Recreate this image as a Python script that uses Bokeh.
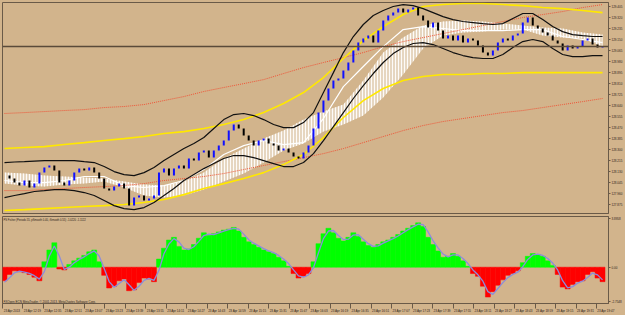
from bokeh.plotting import figure
from bokeh.layouts import column
from bokeh.models import (Range1d, FixedTicker, NumeralTickFormatter,
                          CustomJSTickFormatter, Span, Label)
from bokeh.embed import file_html
from bokeh.resources import INLINE

BG = "#D2B48C"
FG = "#6A5A48"
TXT = "#2B2118"
FONT = "Liberation Sans"

# ---------------- data ----------------
close = [128.098, 128.075, 128.044, 128.021, 128.060, 128.006, 128.036, 128.121, 128.160, 128.176,
         128.137, 128.044, 128.021, 128.060, 128.121, 128.152, 128.137, 128.160, 128.121, 128.075,
         127.998, 127.982, 128.013, 128.036, 127.998, 127.866, 127.928, 127.944, 127.905, 127.920,
         127.944, 128.121, 128.152, 128.098, 128.152, 128.176, 128.152, 128.230, 128.214, 128.276,
         128.292, 128.237, 128.292, 128.330, 128.369, 128.446, 128.493, 128.462, 128.407, 128.369,
         128.330, 128.369, 128.384, 128.346, 128.330, 128.292, 128.307, 128.276, 128.245, 128.230,
         128.276, 128.330, 128.462, 128.585, 128.678, 128.771, 128.833, 128.848, 128.910, 128.972,
         129.065, 129.126, 129.157, 129.180, 129.126, 129.219, 129.296, 129.335, 129.358, 129.389,
         129.358, 129.381, 129.397, 129.335, 129.296, 129.242, 129.281, 129.219, 129.157, 129.180,
         129.142, 129.180, 129.126, 129.157, 129.142, 129.103, 129.049, 129.026, 129.065, 129.126,
         129.157, 129.142, 129.180, 129.196, 129.281, 129.320, 129.258, 129.235, 129.204, 129.180,
         129.142, 129.119, 129.065, 129.103, 129.080, 129.095, 129.142, 129.157, 129.111, 129.088,
         129.095]

# long-period curves, one value every 4 bars
red_upper = [128.578, 128.585, 128.593, 128.601, 128.608, 128.624, 128.632, 128.647, 128.678, 128.709,
             128.748, 128.779, 128.809, 128.840, 128.887, 128.933, 128.972, 129.010, 129.049, 129.095,
             129.134, 129.165, 129.196, 129.227, 129.258, 129.289, 129.320, 129.343, 129.366, 129.397,
             129.420]
red_lower = [127.982, 127.982, 127.990, 127.998, 128.006, 128.013, 128.021, 128.036, 128.060, 128.075,
             128.091, 128.114, 128.145, 128.176, 128.206, 128.237, 128.268, 128.307, 128.353, 128.400,
             128.446, 128.485, 128.516, 128.539, 128.562, 128.585, 128.601, 128.624, 128.647, 128.670,
             128.694]
yel_upper = [128.307, 128.315, 128.322, 128.338, 128.353, 128.369, 128.384, 128.400, 128.423, 128.438,
             128.462, 128.493, 128.531, 128.585, 128.655, 128.740, 128.856, 129.003, 129.142, 129.250,
             129.343, 129.405, 129.420, 129.428, 129.428, 129.420, 129.412, 129.397, 129.389, 129.374,
             129.358]
yel_lower = [127.828, 127.835, 127.843, 127.851, 127.859, 127.866, 127.874, 127.890, 127.913, 127.951,
             127.998, 128.036, 128.075, 128.121, 128.183, 128.261, 128.392, 128.547, 128.678, 128.771,
             128.833, 128.864, 128.879, 128.879, 128.887, 128.887, 128.894, 128.894, 128.894, 128.894,
             128.894]
span_a = [128.121, 128.114, 128.098, 128.091, 128.083, 128.075, 128.052, 128.029, 128.021, 128.052,
          128.121, 128.230, 128.307, 128.384, 128.446, 128.531, 128.593, 128.647, 128.833, 129.049,
          129.165, 129.258, 129.289, 129.296, 129.289, 129.273, 129.258, 129.242, 129.235, 129.204,
          129.188]
span_b = [128.036, 128.021, 128.013, 128.029, 128.036, 128.052, 128.006, 127.944, 127.928, 127.944,
          127.990, 128.052, 128.114, 128.199, 128.292, 128.346, 128.438, 128.493, 128.562, 128.701,
          128.879, 129.080, 129.180, 129.204, 129.211, 129.227, 129.227, 129.180, 129.165, 129.157,
          129.095]
kijun = [128.060, 128.044, 128.044, 128.060, 128.091, 128.091, 128.021, 128.006, 128.021, 128.060,
         128.145, 128.261, 128.330, 128.369, 128.338, 128.353, 128.539, 128.786, 128.941, 129.095,
         129.227, 129.250, 129.235, 129.219, 129.219, 129.219, 129.227, 129.227, 129.173, 129.150,
         129.126]

# channel bands, one value every 2 bars
band_upper = [128.199, 128.203, 128.206, 128.210, 128.214, 128.214, 128.214, 128.214, 128.206, 128.199,
              128.168, 128.129, 128.106, 128.098, 128.121, 128.160, 128.214, 128.261, 128.307, 128.346,
              128.392, 128.462, 128.531, 128.570, 128.578, 128.562, 128.531, 128.493, 128.469, 128.469,
              128.508, 128.585, 128.740, 128.894, 129.049, 129.173, 129.266, 129.335, 129.374, 129.405,
              129.420, 129.412, 129.389, 129.358, 129.327, 129.304, 129.289, 129.281, 129.273, 129.266,
              129.273, 129.312, 129.351, 129.351, 129.304, 129.250, 129.211, 129.188, 129.180, 129.173,
              129.173]
band_lower = [127.928, 127.944, 127.959, 127.975, 127.982, 127.990, 127.990, 127.982, 127.967, 127.944,
              127.905, 127.866, 127.843, 127.835, 127.851, 127.890, 127.944, 127.998, 128.060, 128.106,
              128.152, 128.191, 128.230, 128.253, 128.253, 128.237, 128.214, 128.191, 128.168, 128.168,
              128.199, 128.268, 128.369, 128.477, 128.585, 128.694, 128.794, 128.887, 128.972, 129.041,
              129.088, 129.119, 129.126, 129.111, 129.080, 129.049, 129.026, 129.010, 129.003, 129.003,
              129.034, 129.088, 129.134, 129.150, 129.134, 129.080, 129.034, 129.018, 129.018, 129.026,
              129.026]
last_price = 129.095

hist = [-1.085, -0.578, -0.289, -0.362, -0.434, -0.578, -0.795, -1.085, 0.434, 1.374,
        1.952, -0.145, -0.217, 0.217, 0.506, 0.723, 0.940, 1.229, 1.374, 0.434,
        -0.651, -1.663, -1.518, -1.085, -0.940, -1.880, -1.808, -1.229, -0.868, -0.940,
        -1.157, 0.651, 1.518, 2.169, 2.386, 1.663, 1.374, 1.446, 1.808, 2.314,
        2.747, 2.531, 2.675, 2.820, 2.964, 3.037, 3.181, 2.892, 2.386, 2.024,
        1.808, 1.591, 1.374, 1.229, 1.085, 0.795, 0.506, 0.072, -0.506, -0.868,
        -0.723, -0.506, 0.434, 1.880, 2.675, 3.109, 2.747, 2.314, 2.097, 2.386,
        2.747, 2.458, 2.024, 1.735, 1.591, 1.808, 2.024, 2.169, 2.386, 2.603,
        2.892, 3.109, 3.326, 3.543, 3.254, 2.386, 1.808, 1.301, 0.795, 0.868,
        1.085, 0.868, 0.506, 0.072, -0.506, -0.723, -1.518, -2.386, -1.952, -1.446,
        -1.012, -0.651, -0.506, -0.289, 0.362, 0.868, 1.085, 1.012, 0.868, 0.506,
        0.145, -0.578, -1.591, -1.735, -1.374, -1.157, -1.085, -0.578, -0.362, -0.868,
        -1.157]
signal = [-1.20, -0.85, -0.45, -0.32, -0.40, -0.50, -0.68, -0.95, -0.35, 0.90,
          1.70, 0.90, -0.18, 0.00, 0.36, 0.62, 0.83, 1.09, 1.30, 0.90,
          -0.10, -1.15, -1.60, -1.30, -1.00, -1.40, -1.85, -1.52, -1.05, -0.90,
          -1.05, -0.25, 1.08, 1.85, 2.28, 2.02, 1.52, 1.41, 1.63, 2.06,
          2.53, 2.64, 2.60, 2.75, 2.89, 3.00, 3.11, 3.04, 2.64, 2.20,
          1.92, 1.70, 1.48, 1.30, 1.16, 0.94, 0.65, 0.29, -0.22, -0.69,
          -0.80, -0.61, -0.04, 1.16, 2.28, 2.89, 2.93, 2.53, 2.21, 2.24,
          2.57, 2.60, 2.24, 1.88, 1.66, 1.70, 1.92, 2.10, 2.28, 2.49,
          2.75, 3.00, 3.22, 3.43, 3.40, 2.82, 2.10, 1.55, 1.05, 0.83,
          0.98, 0.98, 0.69, 0.29, -0.22, -0.61, -1.12, -1.95, -2.17, -1.70,
          -1.23, -0.83, -0.58, -0.40, 0.04, 0.62, 0.98, 1.05, 0.94, 0.69,
          0.33, -0.22, -1.08, -1.66, -1.55, -1.27, -1.12, -0.83, -0.47, -0.61,
          -1.01]

y_ticks = [129.405, 129.320, 129.235, 129.150, 129.065, 128.980, 128.895, 128.810, 128.725, 128.640,
           128.555, 128.470, 128.385, 128.300, 128.215, 128.130, 128.045, 127.960, 127.875]
ind_ticks = [3.8958, 0.0, -2.7548]
x_labels = ["23 Apr 2013", "23 Apr 12:19", "23 Apr 12:35", "23 Apr 12:51", "23 Apr 13:07",
            "23 Apr 13:23", "23 Apr 13:39", "23 Apr 13:55", "23 Apr 14:11", "23 Apr 14:27",
            "23 Apr 14:43", "23 Apr 14:59", "23 Apr 15:15", "23 Apr 15:31", "23 Apr 15:47",
            "23 Apr 16:03", "23 Apr 16:19", "23 Apr 16:35", "23 Apr 16:51", "23 Apr 17:07",
            "23 Apr 17:23", "23 Apr 17:39", "23 Apr 17:55", "23 Apr 18:11", "23 Apr 18:27",
            "23 Apr 18:43", "23 Apr 18:59", "23 Apr 19:15", "23 Apr 19:31", "23 Apr 19:47"]
ind_title = "PS Fisher (Periods 55, pSmooth 0.40, iSmooth 0.55)  -1.0220 -1.1122"
copyright_text = "FXOpen ECN MetaTrader, \u00a9 2001-2013, MetaQuotes Software Corp."

# ---------------- derived ----------------
n = len(close)
idx = list(range(n))
opens = [close[0]] + close[:-1]
sx4 = list(range(0, n, 4))
sx2 = list(range(0, n, 2))
xr = Range1d(-0.4, 121.2)

def style_yaxis(ax):
    ax.axis_line_color = FG
    ax.major_tick_line_color = FG
    ax.major_tick_out = 2
    ax.major_tick_in = 0
    ax.minor_tick_out = 0
    ax.minor_tick_in = 0
    ax.major_label_standoff = 1
    ax.major_label_text_font_size = "3px"
    ax.major_label_text_font = FONT
    ax.major_label_text_color = TXT

# ---------------- main pane ----------------
top = figure(width=625, height=215, x_range=xr, y_range=Range1d(127.805, 129.436),
             x_axis_location=None, y_axis_location="right",
             output_backend="svg", toolbar_location=None,
             min_border_left=2, min_border_right=15, min_border_top=2, min_border_bottom=2,
             background_fill_color=BG, border_fill_color=BG,
             outline_line_color=FG, outline_line_width=1)
top.grid.grid_line_color = None
top.yaxis.ticker = FixedTicker(ticks=y_ticks)
top.yaxis.formatter = NumeralTickFormatter(format="0.000")
style_yaxis(top.yaxis[0])

top.varea(x=sx4, y1=span_a, y2=span_b, fill_color="white", fill_alpha=0.45,
          hatch_pattern="|", hatch_color="white", hatch_alpha=0.9, hatch_scale=3, hatch_weight=1)
top.line(sx4, kijun, line_color="white", line_width=1.2)
top.line(sx4, red_upper, line_color="#EE5538", line_width=1, line_dash="1 1")
top.line(sx4, red_lower, line_color="#EE5538", line_width=1, line_dash="1 1")
top.line(sx4, yel_upper, line_color="#FFE800", line_width=1.6)
top.line(sx4, yel_lower, line_color="#FFE800", line_width=1.6)
top.line(sx2, band_upper, line_color="#111111", line_width=1.2)
top.line(sx2, band_lower, line_color="#111111", line_width=1.2)

up_x = [i for i in idx if close[i] >= opens[i]]
dn_x = [i for i in idx if close[i] < opens[i]]
top.segment(x0=up_x, x1=up_x, y0=[opens[i] for i in up_x], y1=[close[i] for i in up_x],
            line_color="#1010FF", line_width=2.0)
top.segment(x0=dn_x, x1=dn_x, y0=[opens[i] for i in dn_x], y1=[close[i] for i in dn_x],
            line_color="#000000", line_width=2.0)

top.add_layout(Span(location=last_price, dimension="width", line_color="#5A4A3A", line_width=1.5))
top.add_layout(Label(x=121.2, y=last_price, text="%.3f" % last_price, x_offset=1,
                     text_font_size="3px", text_font=FONT, text_color="white",
                     text_baseline="middle", background_fill_color="black"))

# ---------------- indicator pane ----------------
bot = figure(width=625, height=100, x_range=xr, y_range=Range1d(-2.90, 4.05),
             y_axis_location="right", x_axis_location="below",
             output_backend="svg", toolbar_location=None,
             min_border_left=2, min_border_right=15, min_border_top=1, min_border_bottom=7,
             background_fill_color=BG, border_fill_color=BG,
             outline_line_color=FG, outline_line_width=1)
bot.grid.grid_line_color = None
bot.yaxis.ticker = FixedTicker(ticks=ind_ticks)
bot.yaxis.formatter = CustomJSTickFormatter(code="return tick == 0 ? '0.00' : tick.toFixed(4);")
style_yaxis(bot.yaxis[0])

starts = [-0.4 + 4.11 * j for j in range(len(x_labels))]
centers = [s + 1.9 for s in starts]
xa = bot.xaxis[0]
xa.ticker = FixedTicker(ticks=centers, minor_ticks=starts)
xa.formatter = CustomJSTickFormatter(args=dict(labels=x_labels), code="return labels[index];")
xa.axis_line_color = FG
xa.major_tick_out = 0
xa.major_tick_in = 0
xa.minor_tick_out = 5
xa.minor_tick_in = 0
xa.minor_tick_line_color = FG
xa.major_label_standoff = 1
xa.major_label_text_font_size = "3px"
xa.major_label_text_font = FONT
xa.major_label_text_color = TXT

pos_x = [i for i in idx if hist[i] >= 0]
neg_x = [i for i in idx if hist[i] < 0]
bot.vbar(x=pos_x, top=[hist[i] for i in pos_x], bottom=0, width=1.0,
         fill_color="#00FF00", line_color="#00FF00", line_width=0.5)
bot.vbar(x=neg_x, top=[hist[i] for i in neg_x], bottom=0, width=1.0,
         fill_color="#FF0000", line_color="#FF0000", line_width=0.5)
bot.line(idx, signal, line_color="#8C8CDC", line_width=1.3)

bot.add_layout(Label(x=-0.2, y=3.74, text=ind_title, text_font_size="2.7px", text_font=FONT,
                     text_color=TXT, text_baseline="middle"))
bot.add_layout(Label(x=-0.2, y=-2.72, text=copyright_text, text_font_size="3px", text_font=FONT,
                     text_color=TXT, text_baseline="middle"))

layout = column(top, bot, spacing=0, styles={"background-color": BG})
open("out.html", "w").write(file_html(layout, INLINE))
